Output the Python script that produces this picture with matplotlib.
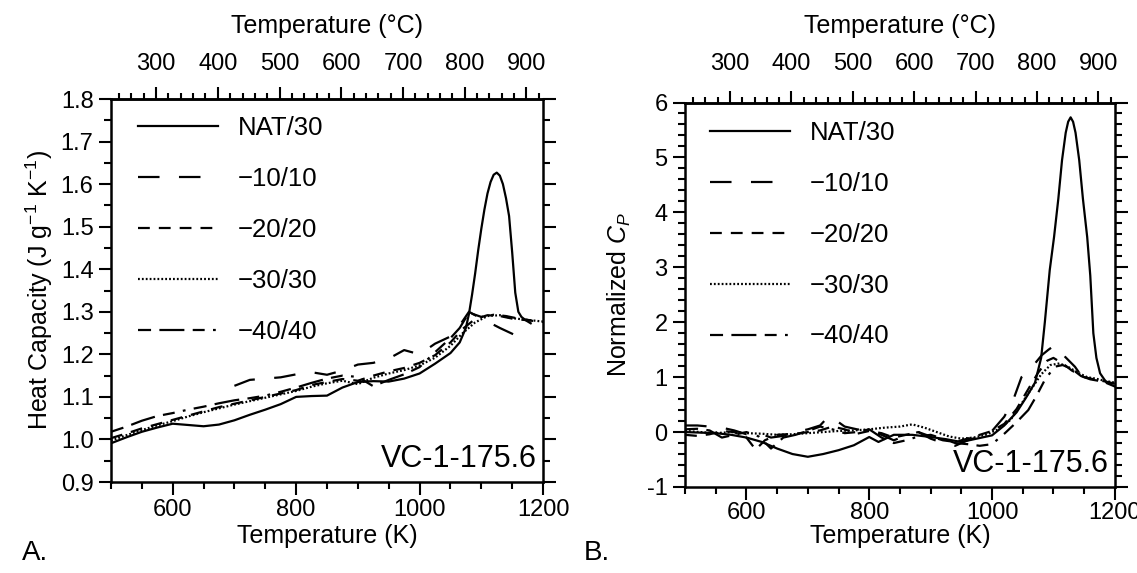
import matplotlib
matplotlib.use("Agg")
import matplotlib.pyplot as plt
from matplotlib.ticker import MultipleLocator, FormatStrFormatter

plt.rcParams['font.family'] = ['Liberation Sans', 'DejaVu Sans']
plt.rcParams['mathtext.fontset'] = 'custom'
plt.rcParams['mathtext.rm'] = 'Liberation Sans'
plt.rcParams['mathtext.it'] = 'Liberation Sans:italic'
plt.rcParams['lines.scale_dashes'] = False

labels = ['NAT/30', '\u221210/10', '\u221220/20', '\u221230/30', '\u221240/40']
styles = ['-', (0, (15.5, 14)), (0, (8.5, 6.5)), (0, (1.3, 1.5)), (0, (9.4, 6, 18, 6, 8.6, 6, 2, 6))]

# panel A - heat capacity
t_nat_a = [500, 525, 550, 575, 600, 625, 650, 675, 700, 725, 750, 775, 800, 825, 850, 875, 900, 925,
           950, 975, 1000, 1025, 1050, 1065, 1075, 1080, 1085, 1090, 1095, 1100, 1105, 1110, 1115, 1120,
           1125, 1130, 1135, 1140, 1145, 1150, 1155, 1160, 1165, 1172, 1180]
cp_nat_a = [0.991, 1.005, 1.018, 1.028, 1.037, 1.034, 1.031, 1.035, 1.045, 1.058, 1.070, 1.083, 1.100, 1.102,
            1.103, 1.122, 1.135, 1.137, 1.136, 1.143, 1.155, 1.178, 1.203, 1.228, 1.262, 1.295, 1.340, 1.390,
            1.445, 1.495, 1.540, 1.578, 1.605, 1.622, 1.627, 1.620, 1.600, 1.567, 1.525, 1.440, 1.345, 1.300,
            1.288, 1.280, 1.273]

t_10_a = [700, 725, 750, 775, 800, 825, 850, 875, 900, 925, 950, 975, 1000, 1025, 1050, 1065, 1080, 1095,
          1110, 1130, 1155]
cp_10_a = [1.126, 1.140, 1.143, 1.146, 1.153, 1.158, 1.152, 1.162, 1.176, 1.180, 1.190, 1.210, 1.200, 1.225,
           1.242, 1.268, 1.300, 1.288, 1.277, 1.262, 1.245]

t_20_a = [500, 525, 550, 575, 600, 625, 650, 675, 700, 725, 750, 775, 800, 825, 850, 875, 900, 925, 950,
          975, 1000, 1025, 1050, 1070, 1090, 1110, 1130, 1150, 1175, 1200]
cp_20_a = [1.003, 1.014, 1.026, 1.036, 1.046, 1.056, 1.066, 1.076, 1.084, 1.092, 1.100, 1.108, 1.116, 1.128,
           1.135, 1.142, 1.138, 1.150, 1.160, 1.168, 1.180, 1.198, 1.228, 1.260, 1.283, 1.292, 1.290, 1.284,
           1.280, 1.276]

t_30_a = [500, 525, 550, 575, 600, 625, 650, 675, 700, 725, 750, 775, 800, 825, 850, 875, 900, 925, 950,
          975, 1000, 1025, 1050, 1070, 1090, 1110, 1130, 1150, 1175, 1200]
cp_30_a = [0.997, 1.010, 1.022, 1.033, 1.043, 1.054, 1.064, 1.073, 1.082, 1.090, 1.098, 1.106, 1.114, 1.124,
           1.132, 1.138, 1.130, 1.145, 1.155, 1.163, 1.174, 1.192, 1.220, 1.250, 1.275, 1.290, 1.292, 1.285,
           1.281, 1.277]

t_40_a = [500, 525, 550, 575, 600, 625, 650, 675, 700, 725, 750, 775, 800, 825, 850, 875, 900, 925, 950,
          975, 1000, 1025, 1050, 1065, 1080, 1100, 1120, 1140, 1160, 1180]
cp_40_a = [1.018, 1.030, 1.044, 1.055, 1.062, 1.070, 1.077, 1.085, 1.092, 1.097, 1.103, 1.112, 1.122, 1.133,
           1.143, 1.150, 1.147, 1.125, 1.140, 1.153, 1.170, 1.205, 1.238, 1.262, 1.298, 1.288, 1.293, 1.290,
           1.284, 1.280]

# panel B - normalized Cp
t_nat_b = [500, 525, 550, 575, 600, 625, 650, 675, 700, 725, 750, 775, 800, 815, 840, 870, 900, 925, 950,
           975, 1000, 1020, 1040, 1055, 1070, 1080, 1086, 1094, 1101, 1108, 1114, 1120, 1124, 1128, 1132, 1136,
           1142, 1148, 1155, 1160, 1165, 1170, 1176, 1187, 1200]
v_nat_b = [0.00, -0.01, -0.02, -0.05, -0.10, -0.18, -0.30, -0.40, -0.45, -0.40, -0.33, -0.24, -0.09, -0.18,
           -0.05, -0.05, -0.09, -0.13, -0.18, -0.12, -0.06, 0.12, 0.36, 0.62, 0.90, 1.35, 2.00, 2.95, 3.55,
           4.25, 4.95, 5.45, 5.65, 5.73, 5.65, 5.45, 4.95, 4.25, 3.55, 2.85, 1.80, 1.35, 1.07, 0.89, 0.83]

t_10_b = [500, 520, 540, 560, 580, 600, 620, 640, 660, 680, 700, 720, 735, 745, 760, 780, 800, 820, 840,
          860, 880, 900, 920, 940, 960, 980, 1000, 1020, 1035, 1048, 1060, 1070, 1081, 1092, 1102, 1110,
          1119, 1135, 1147, 1157]
v_10_b = [0.12, 0.12, 0.10, 0.08, 0.03, -0.04, -0.02, -0.10, -0.07, 0.00, 0.05, 0.12, 0.30, 0.22, 0.10,
          0.05, 0.02, -0.05, -0.15, -0.06, 0.00, -0.12, -0.20, -0.25, -0.15, -0.08, 0.02, 0.28, 0.60, 1.00,
          1.12, 1.25, 1.40, 1.50, 1.58, 1.50, 1.37, 1.19, 1.00, 0.83]

t_20_b = [500, 520, 540, 560, 580, 600, 615, 630, 650, 680, 700, 720, 740, 760, 780, 800, 820, 840, 860,
          880, 900, 920, 940, 960, 980, 1000, 1020, 1040, 1060, 1075, 1090, 1100, 1115, 1130, 1150, 1170,
          1185, 1200]
v_20_b = [-0.05, -0.07, -0.04, 0.02, 0.00, -0.10, -0.32, -0.15, -0.05, -0.03, 0.00, 0.03, 0.10, 0.05, -0.03,
          0.02, -0.02, -0.10, -0.05, 0.00, -0.08, -0.15, -0.18, -0.12, -0.05, 0.02, 0.15, 0.42, 0.80, 1.08,
          1.30, 1.35, 1.25, 1.12, 1.00, 0.95, 0.92, 0.88]

t_30_b = [500, 525, 550, 575, 600, 625, 650, 675, 700, 725, 750, 775, 800, 825, 850, 870, 890, 910, 930,
          950, 970, 990, 1010, 1030, 1050, 1065, 1080, 1095, 1110, 1125, 1140, 1155, 1170, 1185, 1200]
v_30_b = [0.02, 0.00, -0.02, 0.00, -0.02, -0.03, -0.05, -0.04, -0.02, 0.00, 0.02, 0.03, 0.05, 0.08, 0.10,
          0.14, 0.08, 0.00, -0.08, -0.12, -0.10, -0.05, 0.05, 0.22, 0.55, 0.80, 1.05, 1.22, 1.25, 1.18, 1.08,
          1.00, 0.97, 0.93, 0.90]

t_40_b = [500, 520, 540, 560, 580, 600, 620, 640, 660, 680, 700, 720, 740, 760, 780, 800, 820, 840, 860,
          880, 900, 920, 940, 960, 980, 1000, 1021, 1040, 1059, 1072, 1086, 1102, 1115, 1130, 1145, 1160,
          1175, 1190, 1200]
v_40_b = [0.05, 0.06, 0.03, -0.10, -0.05, 0.00, -0.08, -0.30, -0.10, -0.05, 0.02, 0.10, 0.05, -0.02, 0.00,
          0.05, -0.10, -0.20, -0.15, -0.08, -0.05, -0.12, -0.20, -0.22, -0.25, -0.22, -0.02, 0.18, 0.40, 0.65,
          0.95, 1.19, 1.22, 1.15, 1.02, 0.96, 0.93, 0.90, 0.88]


def k2c(t):
    return t - 273.15


def c2k(t):
    return t + 273.15


def draw_panel(ax, series, ylim, ymaj, ymin, yfmt, ylabel, legend_xy, top_pad, top_labelpad,
               bottom_pad=3.5, xlabelpad=2, ylabelpad=4):
    for (t, v), ls, lab in zip(series, styles, labels):
        ax.plot(t, v, color='black', lw=1.6, ls=ls, label=lab)
    ax.set_xlim(500, 1200)
    ax.set_ylim(*ylim)
    ax.xaxis.set_major_locator(MultipleLocator(200))
    ax.xaxis.set_minor_locator(MultipleLocator(50))
    ax.yaxis.set_major_locator(MultipleLocator(ymaj))
    ax.yaxis.set_minor_locator(MultipleLocator(ymin))
    ax.yaxis.set_major_formatter(FormatStrFormatter(yfmt))
    ax.tick_params(which='both', direction='out', width=1.5, labelsize=17, right=True)
    ax.tick_params(axis='x', which='both', pad=bottom_pad)
    ax.tick_params(which='major', length=9)
    ax.tick_params(which='minor', length=5)
    for sp in ax.spines.values():
        sp.set_linewidth(1.8)
    ax.set_xlabel('Temperature (K)', fontsize=18, labelpad=xlabelpad)
    ax.set_ylabel(ylabel, fontsize=18, labelpad=ylabelpad)

    top = ax.secondary_xaxis('top', functions=(k2c, c2k))
    top.set_xticks(range(300, 1000, 100))
    top.xaxis.set_minor_locator(MultipleLocator(20))
    top.tick_params(which='both', direction='out', width=1.5, labelsize=17, pad=top_pad)
    top.tick_params(which='major', length=9)
    top.tick_params(which='minor', length=4)
    top.spines['top'].set_linewidth(1.8)
    top.set_xlabel('Temperature (\u00b0C)', fontsize=18, labelpad=top_labelpad)

    ax.legend(loc='upper left', bbox_to_anchor=legend_xy, frameon=False, fontsize=18.5,
              handlelength=3.1, handletextpad=0.78, labelspacing=1.05, borderpad=0, borderaxespad=0)
    ax.text(0.985, 0.02, 'VC-1-175.6', transform=ax.transAxes, ha='right', va='bottom', fontsize=22)


fig = plt.figure(figsize=(11.37, 5.73), dpi=100)
ax_a = fig.add_axes([0.0976, 0.1588, 0.380, 0.6684])
ax_b = fig.add_axes([0.6025, 0.1501, 0.378, 0.671])

draw_panel(ax_a, [(t_nat_a, cp_nat_a), (t_10_a, cp_10_a), (t_20_a, cp_20_a), (t_30_a, cp_30_a), (t_40_a, cp_40_a)],
           (0.9, 1.8), 0.1, 0.05, '%.1f', 'Heat Capacity (J g$^{-1}$ K$^{-1}$)', (0.0625, 0.955), 8.5, 14)
draw_panel(ax_b, [(t_nat_b, v_nat_b), (t_10_b, v_10_b), (t_20_b, v_20_b), (t_30_b, v_30_b), (t_40_b, v_40_b)],
           (-1, 6), 1, 0.2, '%d', 'Normalized $C_P$', (0.058, 0.953), 10.5, 15,
           bottom_pad=1.5, xlabelpad=0.5, ylabelpad=10)

fig.text(0.019, 0.022, 'A.', fontsize=20)
fig.text(0.513, 0.022, 'B.', fontsize=20)

plt.savefig('out.png', dpi=100)
plt.close()
